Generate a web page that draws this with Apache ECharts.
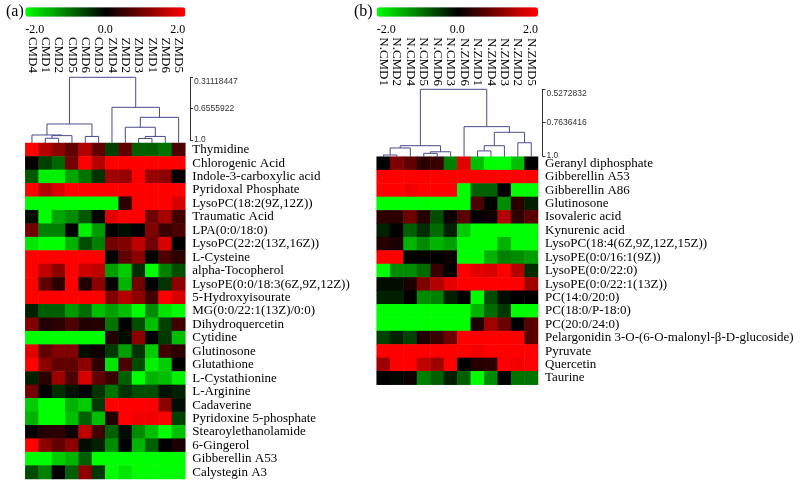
<!DOCTYPE html>
<html><head><meta charset="utf-8">
<script src="https://cdn.jsdelivr.net/npm/echarts@6/dist/echarts.min.js"></script>
<style>html,body{margin:0;padding:0;background:#fff}#c{width:800px;height:482px}</style>
</head><body><div id="c"></div>
<script>
// ---------- data ----------
const colsA = ['CMD4','CMD1','CMD2','CMD5','CMD6','CMD3','ZMD4','ZMD2','ZMD3','ZMD1','ZMD6','ZMD5'];
const rowsA = ['Thymidine','Chlorogenic Acid','Indole-3-carboxylic acid','Pyridoxal Phosphate','LysoPC(18:2(9Z,12Z))','Traumatic Acid','LPA(0:0/18:0)','LysoPC(22:2(13Z,16Z))','L-Cysteine','alpha-Tocopherol','LysoPE(0:0/18:3(6Z,9Z,12Z))','5-Hydroxyisourate','MG(0:0/22:1(13Z)/0:0)','Dihydroquercetin','Cytidine','Glutinosone','Glutathione','L-Cystathionine','L-Arginine','Cadaverine','Pyridoxine 5-phosphate','Stearoylethanolamide','6-Gingerol','Gibberellin A53','Calystegin A3'];
const valuesA = [
  [2, 1.4, 1.1, 0.75, 1.4, 0.75, -0.5, 0.75, -0.75, -0.75, -0.9, 0.6],
  [0.05, -0.5, -0.8, 0.9, 2, 1.4, 2, 2, 2, 2, 2, 2],
  [-0.7, -1.9, -1.9, -1.3, -0.9, -0.4, 1.25, 1.2, 2, 1.2, 1.1, 0],
  [2, 1.4, 1.7, 2, 2, 2, 2, 2, 2, 2, 2, 2],
  [-2, -2, -2, -2, -2, -2, -2, 0.35, 2, 2, 2, 1.7],
  [-0.1, -2, -1.3, -1.1, -0.7, 0, 1.8, 2, 2, 0.9, 1.3, 0.5],
  [0.9, -1, -1, 0, -1.9, -1.2, 0, -0.1, 0, 1, 0.45, 0.6],
  [-1.8, -2, -2, -1.4, -0.6, -1, 0.9, 1, 1.5, 0.9, 1.7, 0],
  [2, 2, 2, 2, 2, 2, 0, 0.75, 1.1, 0, 0.6, 0.35],
  [2, 1.5, 1.1, 2, 1.6, 1.5, -1.25, -1.6, -0.35, -2, -1, -0.6],
  [2, 0.75, 0.35, 2, 0.25, 1.1, 0.05, -1.4, 0.9, 0, -0.4, 1.1],
  [2, 2, 2, 2, 2, 2, 1, 1.4, 1.1, 0.5, 2, 1.7],
  [-0.25, -0.75, -0.75, -1.2, -0.85, -1.5, -1.25, -1.5, -2, -1.1, -1.8, -2],
  [1, 0.25, 0.35, 0.6, 0.25, 0.3, -0.9, 0, -0.6, -1.5, -0.5, 0.5],
  [-2, -2, -2, -2, -2, -2, 0.25, -0.1, 1.1, 0, -0.45, -1.5],
  [1.8, 0.75, 1.0, 1.0, -0.1, 0.1, -0.45, -1.25, -0.4, -1.6, 0.5, 0.35],
  [2, 1.1, 0.75, 0.75, 1.1, 0.35, -1.8, 0.6, -0.6, -1.9, -1.6, 0],
  [-0.25, 0.35, 1.25, 0.6, 1.7, 0.75, 0.45, -0.75, -2, -1.4, -1.5, -1.9],
  [0.9, 0, -0.35, -0.15, 0, -0.4, -0.9, -0.4, -0.6, -0.6, -0.15, -0.25],
  [-1.6, -2, -2, -1.4, -1.6, -0.45, 2, 2, 2, 2, 1.1, -0.1],
  [-1.4, -2, -2, -1.5, -0.75, -1.5, 0.25, 2, 1.9, 1.9, 2, -0.5],
  [0, 0.3, 0.35, 0.1, 1.5, 0.5, -0.75, -0.1, -1.1, -1.5, -2, -1.5],
  [2, 1.1, 0.75, 1.1, -0.1, -0.25, -1.1, 0, -1.4, -0.75, 0, 0.2],
  [-2, -2, -1.6, -1.4, -0.75, -2, -2, -2, -2, -2, -2, -2],
  [-0.6, -1, 0, -0.75, 1.1, -0.45, -2, -1.8, -2, -2, -2, -2]
];
// merges: [childA, childB, similarity]; leaves are 0..11, merge k creates node 12+k
const mergesA = [[1,2,0.981],[12,3,0.952],[0,13,0.945],[4,5,0.961],[14,15,0.824],[8,9,0.983],[17,10,0.961],[7,18,0.860],[19,11,0.751],[6,20,0.641],[16,21,0.31118447]];
const dendroTicksA = [0.31118447, 0.6555922, 1.0];
const dendroTickLabelsA = ['0.31118447', '0.6555922', '1.0'];

const colsB = ['N.CMD1','N.CMD2','N.CMD4','N.CMD5','N.CMD6','N.CMD3','N.ZMD6','N.ZMD1','N.ZMD4','N.ZMD3','N.ZMD2','N.ZMD5'];
const rowsB = ['Geranyl diphosphate','Gibberellin A53','Gibberellin A86','Glutinosone','Isovaleric acid','Kynurenic acid','LysoPC(18:4(6Z,9Z,12Z,15Z))','LysoPE(0:0/16:1(9Z))','LysoPE(0:0/22:0)','LysoPE(0:0/22:1(13Z))','PC(14:0/20:0)','PC(18:0/P-18:0)','PC(20:0/24:0)','Pelargonidin 3-O-(6-O-malonyl-\u03b2-D-glucoside)','Pyruvate','Quercetin','Taurine'];
const valuesB = [
  [0, 1, 0.75, 0.35, 0.45, -1, 1.8, -1.5, -2, -2, -1.5, 0],
  [2, 2, 2, 2, 2, 2, 2, 2, 2, 2, 2, 2],
  [2, 2, 1.9, 2, 2, 2, -2, -0.75, -0.75, 0, -2, -2],
  [-2, -2, -2, -2, -2, -2, -2, 0.6, 0, -1.1, 0.35, -0.25],
  [0.35, 0.35, 0.85, 0.3, -0.6, 0.1, 0.7, 0, 0.1, 1.4, 0.35, 0.7],
  [-0.25, 0, -0.75, -0.35, -0.85, -0.25, -1.6, -2, -2, -2, -2, -2],
  [0.3, 0.2, -1.4, -1.1, -1.4, -1.25, -2, -2, -2, -1.4, -2, -2],
  [2, 2, 0, 0, 0, 0.1, -2, -2, -1.4, -1, -1.1, -1.25],
  [-2, -1.1, -1.1, -0.85, 0.45, 0, 2, 1.8, 1.7, 2, 1.4, -0.35],
  [-0.1, -0.1, 0.2, 1, 1.4, 1.8, 2, 2, 2, 2, 2, 1.25],
  [-0.25, -0.25, 0, -1.1, -1, -0.25, 0, -2, -0.6, -0.1, 0, 0],
  [-2, -2, -2, -2, -2, -2, -2, -1.4, -0.85, -0.45, -2, -2],
  [-2, -2, -2, -2, -2, -2, -2, 0.2, 1.25, 0.85, 0, 0.7],
  [-0.5, -0.25, -0.5, 0.25, 0.45, 0.85, 2, 2, 2, 2, 2, 0.7],
  [2, 2, 2, 2, 2, 2, 2, 1.9, 2, 2, 2, 2],
  [1.25, 2, 2, 1.5, 1.25, 2, 0, 0.3, 0.35, 2, 1.9, 2],
  [0, -0.05, 0.1, -1, -0.75, -0.25, -0.75, -2, -1.1, 0, -0.9, -0.9]
];
const mergesB = [[0,1,0.993],[12,2,0.943],[3,4,0.981],[14,5,0.970],[13,15,0.927],[7,8,0.964],[17,9,0.927],[10,11,0.906],[18,19,0.832],[6,20,0.792],[16,21,0.5272832]];
const dendroTicksB = [0.5272832, 0.7636416, 1.0];
const dendroTickLabelsB = ['0.5272832', '0.7636416', '1.0'];

const colorTicks = [-2, 0, 2];
const colorTickLabels = ['-2.0', '0.0', '2.0'];
const panelLabels = ['(a)', '(b)'];

// ---------- helpers ----------
const SERIF = "'Liberation Serif', 'Times New Roman', serif";
const SANS = "'Liberation Sans', Arial, sans-serif";
const DENDRO_COLOR = '#4a4a8c';

function heatData(vals) {
  const out = [];
  vals.forEach((row, r) => row.forEach((v, c) => out.push([c, r, v])));
  return out;
}
function dendroLines(merges, nLeaves, leafBottom) {
  const pos = [], ht = [], lines = [];
  for (let i = 0; i < nLeaves; i++) { pos[i] = i; ht[i] = leafBottom; }
  merges.forEach((m, k) => {
    const [a, b, h] = m, id = nLeaves + k;
    pos[id] = (pos[a] + pos[b]) / 2; ht[id] = h;
    lines.push({ coords: [[pos[a], ht[a]], [pos[a], h], [pos[b], h], [pos[b], ht[b]]] });
  });
  return lines;
}
function lookup(ticks, labels) {
  return v => { let best = 0; ticks.forEach((t, i) => { if (Math.abs(t - v) < Math.abs(ticks[best] - v)) best = i; }); return labels[best]; };
}

// ---------- layout ----------
const L = {
  a: { left: 25.3, width: 160, top: 143, height: 336, dTop: 77.3, dH: 62.7, leafBottom: 1.033, colOffset: 68, axisOff: 4.7 },
  b: { left: 376.7, width: 161.3, top: 156.7, height: 228, dTop: 89.3, dH: 66.7, leafBottom: 1.006, colOffset: 68.7, axisOff: 4.5 }
};

function catX(cols, grid, off) {
  return { type: 'category', data: cols, gridIndex: grid, position: 'top', offset: off,
    axisLine: { show: false }, axisTick: { show: false }, splitLine: { show: false },
    axisLabel: { rotate: 90, interval: 0, margin: 2, fontFamily: SERIF, fontSize: 13, color: '#000' } };
}
function catY(rows, grid) {
  return { type: 'category', data: rows, gridIndex: grid, inverse: true, position: 'right',
    axisLine: { show: false }, axisTick: { show: false }, splitLine: { show: false },
    axisLabel: { interval: 0, margin: 7, fontFamily: SERIF, fontSize: 13, color: '#000' } };
}
function dendroX(grid) {
  return { type: 'value', gridIndex: grid, min: -0.5, max: 11.5, show: false };
}
function dendroY(grid, ticks, labels, off) {
  return { type: 'value', gridIndex: grid, inverse: true, min: ticks[0], max: 1, position: 'right', offset: off,
    axisLine: { show: true, onZero: false, lineStyle: { color: '#333', width: 1 } },
    axisTick: { show: true, length: 3, customValues: ticks, lineStyle: { color: '#333' } },
    splitLine: { show: false },
    axisLabel: { customValues: ticks, formatter: lookup(ticks, labels), margin: 4,
      fontFamily: SANS, fontSize: 8.5, color: '#333',
      verticalAlignMinLabel: 'top' } };
}
function cbX(grid) {
  return { type: 'value', gridIndex: grid, min: -2, max: 2, interval: 2, position: 'bottom',
    axisLine: { show: false }, axisTick: { show: false }, splitLine: { show: false },
    axisLabel: { formatter: lookup(colorTicks, colorTickLabels), margin: 3, fontFamily: SERIF, fontSize: 12, color: '#000',
      alignMinLabel: 'left', alignMaxLabel: 'right' } };
}
function vm(idx, lay) {
  return { type: 'continuous', seriesIndex: idx, min: -2, max: 2, orient: 'horizontal',
    left: lay.left, top: 7.3, itemWidth: 9.4, itemHeight: lay.width, padding: 0,
    calculable: false, realtime: false, hoverLink: false, text: null, showLabel: false,
    inRange: { color: ['#00ff00', '#000000', '#ff0000'] } };
}

const option = {
  animation: false,
  backgroundColor: '#fff',
  title: [
    { text: panelLabels[0], left: 1, top: -1, textStyle: { fontFamily: SERIF, fontSize: 16, fontWeight: 'normal', color: '#000' } },
    { text: panelLabels[1], left: 349, top: -1, textStyle: { fontFamily: SERIF, fontSize: 16, fontWeight: 'normal', color: '#000' } }
  ],
  grid: [
    { left: L.a.left, width: L.a.width, top: L.a.top, height: L.a.height },
    { left: L.b.left, width: L.b.width, top: L.b.top, height: L.b.height },
    { left: L.a.left, width: L.a.width, top: L.a.dTop, height: L.a.dH },
    { left: L.b.left, width: L.b.width, top: L.b.dTop, height: L.b.dH },
    { left: L.a.left, width: L.a.width, top: 20, height: 1 },
    { left: L.b.left, width: L.b.width, top: 20, height: 1 }
  ],
  xAxis: [ catX(colsA, 0, L.a.colOffset), catX(colsB, 1, L.b.colOffset), dendroX(2), dendroX(3), cbX(4), cbX(5) ],
  yAxis: [ catY(rowsA, 0), catY(rowsB, 1),
    dendroY(2, dendroTicksA, dendroTickLabelsA, L.a.axisOff), dendroY(3, dendroTicksB, dendroTickLabelsB, L.b.axisOff),
    { type: 'value', gridIndex: 4, show: false }, { type: 'value', gridIndex: 5, show: false } ],
  visualMap: [ vm(0, L.a), vm(1, L.b) ],
  series: [
    { type: 'heatmap', xAxisIndex: 0, yAxisIndex: 0, data: heatData(valuesA), silent: true },
    { type: 'heatmap', xAxisIndex: 1, yAxisIndex: 1, data: heatData(valuesB), silent: true },
    { type: 'lines', coordinateSystem: 'cartesian2d', xAxisIndex: 2, yAxisIndex: 2, polyline: true, clip: false, silent: true,
      lineStyle: { color: DENDRO_COLOR, width: 1, opacity: 1 }, data: dendroLines(mergesA, colsA.length, L.a.leafBottom) },
    { type: 'lines', coordinateSystem: 'cartesian2d', xAxisIndex: 3, yAxisIndex: 3, polyline: true, clip: false, silent: true,
      lineStyle: { color: DENDRO_COLOR, width: 1, opacity: 1 }, data: dendroLines(mergesB, colsB.length, L.b.leafBottom) }
  ]
};
echarts.init(document.getElementById('c')).setOption(option);
</script></body></html>
